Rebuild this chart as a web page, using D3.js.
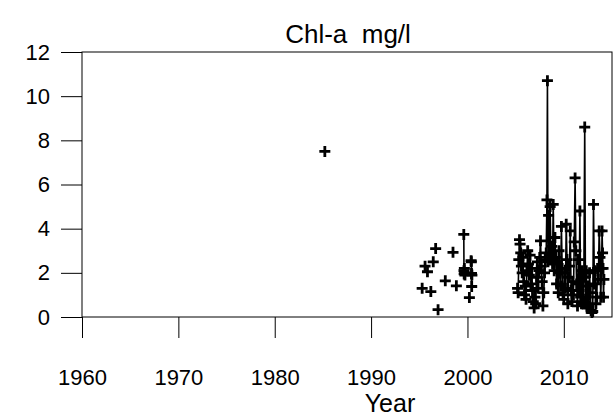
<!DOCTYPE html>
<html>
<head>
<meta charset="utf-8">
<script src="https://cdn.jsdelivr.net/npm/d3@7"></script>
<style>
  html, body { margin: 0; padding: 0; background: #fff; }
  svg { display: block; }
  text { font-family: "Liberation Sans", Arial, sans-serif; fill: #000; }
</style>
</head>
<body>
<svg id="chart" width="613" height="419"></svg>
<script>
// ---- data ----
const title = "Chl-a  mg/l";
const xLabel = "Year";
const xTicks = [1960, 1970, 1980, 1990, 2000, 2010];
const yTicks = [0, 2, 4, 6, 8, 10, 12];

const years = [
  1985.2,
  1995.3, 1995.6, 1995.85, 1996.2, 1996.45, 1996.7, 1996.95,
  1997.7, 1998.5, 1998.85,
  1999.62, 1999.64, 1999.66, 1999.68, 1999.71, 1999.74,
  2000.2, 2000.38, 2000.40, 2000.42, 2000.44, 2000.46,
  2005.2, 2005.26, 2005.33, 2005.40, 2005.46, 2005.53, 2005.60, 2005.68, 2005.76, 2005.84, 2005.92,
  2006.00, 2006.08, 2006.17, 2006.25, 2006.33, 2006.42, 2006.50, 2006.58, 2006.67, 2006.75, 2006.83, 2006.92,
  2007.00, 2007.08, 2007.17, 2007.25, 2007.33, 2007.42, 2007.50, 2007.58, 2007.67, 2007.75, 2007.83, 2007.92,
  2008.00, 2008.08, 2008.17, 2008.25, 2008.30, 2008.36, 2008.42, 2008.50, 2008.58, 2008.67, 2008.75, 2008.83, 2008.90,
  2009.00, 2009.08, 2009.17, 2009.25, 2009.33, 2009.42, 2009.50, 2009.58, 2009.67, 2009.75, 2009.83, 2009.92,
  2010.00, 2010.08, 2010.17, 2010.25, 2010.33, 2010.42, 2010.50, 2010.58, 2010.67, 2010.75, 2010.83, 2010.92,
  2011.00, 2011.08, 2011.17, 2011.25, 2011.33, 2011.42, 2011.50, 2011.58, 2011.67, 2011.75, 2011.83, 2011.92,
  2012.00, 2012.08, 2012.17, 2012.25, 2012.33, 2012.42, 2012.50, 2012.58, 2012.67, 2012.75, 2012.83, 2012.92,
  2013.00, 2013.08, 2013.17, 2013.25, 2013.33, 2013.42, 2013.50, 2013.58, 2013.67, 2013.75, 2013.83, 2013.92,
  2013.97, 2014.02, 2014.07, 2014.12, 2014.16
];
const chla = [
  7.5,
  1.3, 2.3, 2.05, 1.15, 2.5, 3.1, 0.33,
  1.64, 2.93, 1.41,
  3.74, 2.1, 1.95, 2.2, 2.0, 1.9,
  0.88, 2.55, 2.5, 1.97, 1.38, 1.9,
  1.3, 1.1, 2.6, 3.5, 3.3, 2.9, 2.3, 2.0, 2.7, 1.6, 1.0,
  1.4, 0.8, 2.1, 3.0, 2.4, 1.9, 2.8, 1.5, 2.2, 1.2, 0.7, 0.41,
  0.9, 0.6, 1.8, 2.5, 1.3, 2.1, 2.7, 3.45, 2.3, 1.6, 0.5, 1.1,
  2.0, 2.6, 2.9, 5.3, 10.7, 2.5, 4.6, 2.8, 5.0, 2.6, 3.2, 2.4, 5.1,
  2.1, 3.6, 2.7, 1.5, 2.5, 1.1, 3.0, 2.0, 1.4, 4.1, 2.2, 1.0,
  0.8, 2.0, 1.3, 4.2, 2.6, 0.6, 1.8, 2.3, 3.9, 1.2, 0.7, 1.6,
  1.0, 3.4, 6.3, 3.0, 1.5, 0.5, 2.6, 1.2, 4.8, 0.9, 0.6, 2.1,
  0.7, 1.8, 8.6, 0.8, 2.1, 0.4, 1.4, 0.5, 2.0, 1.1, 0.3, 0.2,
  0.25, 5.1, 1.5, 2.1, 0.6, 0.9, 2.2, 1.7, 3.9, 2.7, 0.9, 2.2,
  3.9, 2.9, 2.2, 0.9, 1.7
];
const maxGap = 0.15; // consecutive samples closer than this are joined

// ---- layout ----
const svg = d3.select("#chart");
const mLeft = 82, mRight = 612, mTop = 52, mBottom = 317, tickLen = 21;

const x = d3.scaleLinear().domain([1960, 2015]).range([mLeft, mRight]);
const y = d3.scaleLinear().domain([0, 12]).range([mBottom, mTop]);

const data = years.map((yr, i) => ({ x: yr, y: chla[i] }));

// frame
svg.append("rect")
  .attr("x", mLeft).attr("y", mTop)
  .attr("width", mRight - mLeft).attr("height", mBottom - mTop)
  .attr("fill", "none").attr("stroke", "#000").attr("stroke-width", 1);

// axes
const xAxis = d3.axisBottom(x).tickValues(xTicks).tickFormat(d3.format("d"))
  .tickSize(tickLen).tickSizeOuter(0).tickPadding(31);
const gx = svg.append("g").attr("transform", `translate(0,${mBottom})`).call(xAxis);
gx.select(".domain").remove();
gx.selectAll("line").attr("stroke", "#000");
gx.selectAll("text").style("font-size", "22px").attr("font-family", null);

const yAxis = d3.axisLeft(y).tickValues(yTicks).tickFormat(d3.format("d"))
  .tickSize(tickLen).tickSizeOuter(0).tickPadding(11);
const gy = svg.append("g").attr("transform", `translate(${mLeft},0)`).call(yAxis);
gy.select(".domain").remove();
gy.selectAll("line").attr("stroke", "#000");
gy.selectAll("text").style("font-size", "22px").attr("font-family", null);

// connecting lines
const segs = [];
let cur = [data[0]];
for (let i = 1; i < data.length; i++) {
  if (data[i].x - data[i - 1].x < maxGap) cur.push(data[i]);
  else { segs.push(cur); cur = [data[i]]; }
}
segs.push(cur);
const line = d3.line().x(d => x(d.x)).y(d => y(d.y));
svg.append("g").selectAll("path").data(segs.filter(s => s.length > 1)).join("path")
  .attr("d", line).attr("fill", "none").attr("stroke", "#000").attr("stroke-width", 1.6);

// plus markers
svg.append("g").selectAll("path").data(data).join("path")
  .attr("transform", d => `translate(${x(d.x)},${y(d.y)})`)
  .attr("d", "M-5.5,0H5.5M0,-5.5V5.5")
  .attr("stroke", "#000").attr("stroke-width", 2.8).attr("fill", "none");

// titles
svg.append("text").attr("x", 348).attr("y", 43)
  .attr("text-anchor", "middle").style("font-size", "26px")
  .style("white-space", "pre").text(title);
svg.append("text").attr("x", 390).attr("y", 412)
  .attr("text-anchor", "middle").style("font-size", "25px").text(xLabel);
</script>
</body>
</html>
